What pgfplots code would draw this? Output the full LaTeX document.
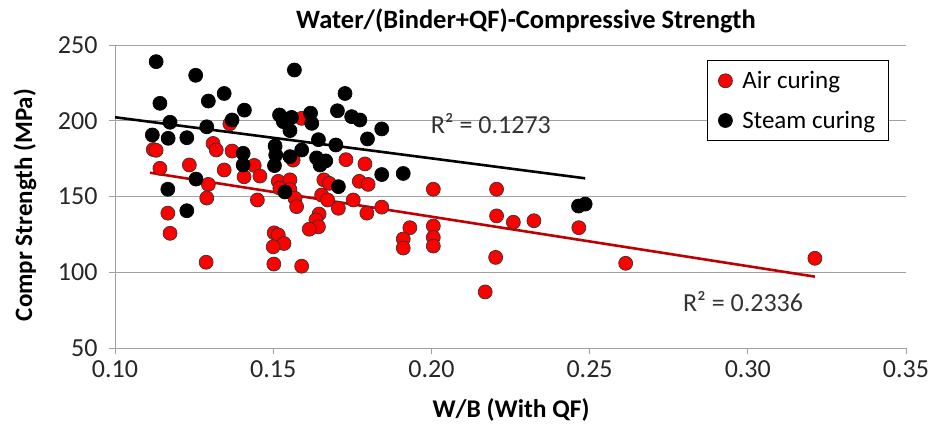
\documentclass[border=0pt]{standalone}
\usepackage{pgfplots}
\pgfplotsset{compat=1.18}
\usepackage{fontspec}
\setmainfont{Carlito}

\definecolor{gridgray}{RGB}{160,160,160}
\definecolor{airred}{RGB}{255,0,0}
\definecolor{trendred}{RGB}{192,0,0}

% Air-cured specimens: W/B (with QF) vs compressive strength (MPa)
\pgfplotstableread{
x y
0.1363 198
0.1590 201.6
0.1310 185
0.1320 180.7
0.1121 181
0.1130 180.5
0.1370 180
0.1142 168.6
0.1235 170.8
0.1345 167.5
0.1295 158
0.1290 149
0.1167 139
0.1174 125.7
0.1288 106.6
0.1440 170.5
0.1458 163.5
0.1408 163
0.1730 174.3
0.1563 174
0.1790 171.5
0.1772 160
0.1800 158
0.1516 160
0.1553 161
0.1553 154.5
0.1521 155.5
0.1569 148.8
0.1574 143.3
0.1660 161
0.1677 158.7
0.1653 151
0.1672 147.7
0.1706 142.2
0.1753 147.7
0.1450 147.7
0.1796 139
0.1645 138.4
0.1635 134.5
0.1643 130
0.1614 128.4
0.1503 126
0.1516 124.6
0.1534 119
0.1500 116.8
0.1502 105.4
0.1590 104
0.2006 154.8
0.2206 154.8
0.1843 143
0.1932 129.4
0.1911 122
0.1911 116
0.2006 130.5
0.2006 123
0.2006 117.3
0.2206 137.2
0.2259 133
0.2324 134
0.2466 129.4
0.2203 109.8
0.2170 87
0.2614 105.9
0.3212 109.2
}\airdata

% Steam-cured specimens
\pgfplotstableread{
x y
0.1130 239
0.1255 230
0.1345 218
0.1142 211.5
0.1295 213
0.1174 199
0.1370 200.5
0.1290 196
0.1118 190.6
0.1168 188.4
0.1227 188.8
0.1256 161.5
0.1167 154.8
0.1227 140.6
0.1567 233.5
0.1727 218
0.1409 207
0.1520 203.8
0.1558 202.2
0.1618 205
0.1622 198.3
0.1532 199.4
0.1703 206.6
0.1748 202.7
0.1774 200.5
0.1553 193.5
0.1643 187.5
0.1698 184
0.1798 188
0.1843 194.6
0.1506 183.3
0.1508 177.4
0.1553 176.3
0.1590 180.7
0.1637 175.5
0.1666 173.5
0.1648 170.8
0.1504 170.4
0.1405 178.5
0.1405 170.8
0.1706 156.5
0.1537 153
0.1843 164.5
0.1911 165.2
0.2465 143.7
0.2486 145
}\steamdata

\begin{document}
\begin{tikzpicture}[x=1pt,y=1pt]
\begin{axis}[
  at={(0pt,0pt)}, anchor=south west,
  scale only axis, width=791pt, height=303pt,
  xmin=0.10, xmax=0.35, ymin=50, ymax=250,
  xtick={0.10,0.15,0.20,0.25,0.30,0.35},
  ytick={50,100,150,200,250},
  xticklabel style={yshift=-3pt, /pgf/number format/fixed,
    /pgf/number format/fixed zerofill, /pgf/number format/precision=2},
  /pgf/number format/assume math mode=true,
  ticklabel style={font=\fontsize{26}{30}\selectfont, text=black!85},
  yticklabel style={xshift=-8pt},
  axis x line*=bottom, axis y line*=left,
  axis line style={draw=gridgray, line width=0.9pt, -},
  tick style={draw=gridgray, line width=0.9pt},
  tick align=outside, major tick length=6pt,
  ymajorgrids, grid style={draw=gridgray, line width=0.9pt},
  clip=false,
  legend style={at={(axis description cs:0.7484,0.9505)}, anchor=north west,
    draw=black, line width=0.9pt, font=\fontsize{25}{29}\selectfont,
    inner xsep=11pt, inner ysep=9pt, row sep=17pt},
  legend cell align=left,
]
\addplot[only marks, mark=*, mark size=7pt,
  mark options={fill=airred, draw=black!80, line width=0.7pt}]
  table[x=x, y=y] {\airdata};
\addlegendentry{\hspace{8pt}Air curing}
\addplot[only marks, mark=*, mark size=7pt,
  mark options={fill=black, draw=black, line width=0.7pt}]
  table[x=x, y=y] {\steamdata};
\addlegendentry{\hspace{8pt}Steam curing}
% linear trend lines
\addplot[forget plot, trendred, line width=2.6pt] coordinates {(0.1111,165.7) (0.3212,97.1)};
\addplot[forget plot, black, line width=2.6pt] coordinates {(0.100,202.3) (0.2486,162.0)};
\node[font=\fontsize{26}{30}\selectfont, text=black!80] at (axis cs:0.2188,197.9) {R² = 0.1273};
\node[font=\fontsize{26}{30}\selectfont, text=black!80] at (axis cs:0.2985,80.4) {R² = 0.2336};
\end{axis}
\node[font=\bfseries\fontsize{26.5}{30}\selectfont] at (411pt,327pt) {Water/(Binder+QF)-Compressive Strength};
\node[font=\bfseries\fontsize{25}{29}\selectfont, rotate=90] at (-90pt,143pt) {Compr Strength (MPa)};
\node[font=\bfseries\fontsize{25.5}{29}\selectfont] at (396pt,-62pt) {W/B (With QF)};
\pgfresetboundingbox
\path (-115pt,-79pt) rectangle (818pt,348pt);
\end{tikzpicture}
\end{document}
